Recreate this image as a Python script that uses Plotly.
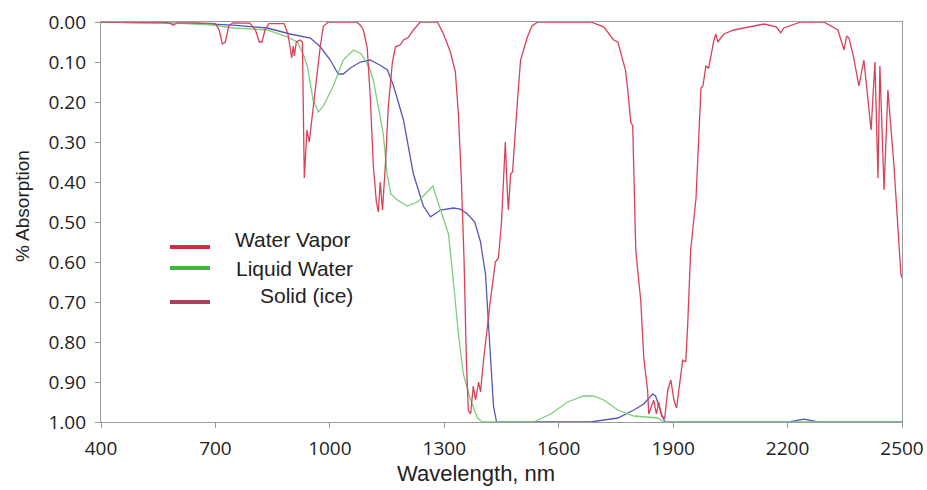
import plotly.graph_objects as go

# ---- data ----
wl_vapor = [400, 560, 580, 590, 600, 650, 700, 710, 718, 726, 735, 745, 790, 805, 815, 822, 830, 840,
            880, 890, 896, 900, 904, 907, 912, 922, 928, 933, 940, 946, 952, 958, 967, 975, 983, 996,
            1070, 1080, 1088, 1098, 1106, 1114, 1122, 1127, 1132, 1138, 1146, 1153, 1164, 1172, 1185,
            1193, 1206, 1219, 1237, 1282, 1298, 1316, 1329, 1337, 1345, 1352, 1358, 1363, 1369, 1376,
            1382, 1390, 1395, 1403, 1421, 1434, 1442, 1450, 1455, 1460, 1465, 1468, 1474, 1479, 1492,
            1500, 1518, 1530, 1545, 1684, 1718, 1744, 1755, 1768, 1775, 1781, 1789, 1794, 1797, 1802,
            1807, 1815, 1823, 1833, 1836, 1844, 1849, 1856, 1862, 1870, 1878, 1886, 1894, 1902, 1909,
            1915, 1925, 1933, 1938, 1946, 1960, 1973, 1978, 1986, 1993, 2007, 2012, 2017, 2033, 2059,
            2104, 2138, 2170, 2182, 2190, 2235, 2295, 2332, 2348, 2355, 2361, 2373, 2387, 2400, 2419,
            2429, 2437, 2442, 2453, 2463, 2479, 2492, 2497, 2500]
abs_vapor = [0.0, 0.0, 0.003, 0.008, 0.002, 0.002, 0.004, 0.02, 0.055, 0.05, 0.01, 0.002, 0.003, 0.02,
             0.05, 0.05, 0.02, 0.004, 0.004, 0.03, 0.065, 0.09, 0.06, 0.085, 0.05, 0.045, 0.05, 0.39,
             0.27, 0.30, 0.25, 0.2, 0.125, 0.06, 0.01, 0.0, 0.0, 0.008, 0.02, 0.065, 0.19, 0.36, 0.45,
             0.475, 0.40, 0.47, 0.35, 0.215, 0.1, 0.062, 0.057, 0.045, 0.038, 0.02, 0.0, 0.0, 0.03,
             0.075, 0.125, 0.23, 0.40, 0.6, 0.85, 0.97, 0.98, 0.91, 0.945, 0.90, 0.925, 0.845, 0.695,
             0.6, 0.59, 0.5, 0.40, 0.30, 0.42, 0.47, 0.38, 0.375, 0.195, 0.095, 0.037, 0.01, 0.0, 0.0,
             0.012, 0.045, 0.05, 0.095, 0.12, 0.17, 0.25, 0.26, 0.36, 0.57, 0.62, 0.695, 0.84, 0.92,
             0.98, 0.96, 0.945, 0.98, 0.95, 0.985, 0.99, 0.92, 0.895, 0.945, 0.965, 0.92, 0.845, 0.85,
             0.76, 0.57, 0.44, 0.165, 0.16, 0.11, 0.115, 0.045, 0.03, 0.05, 0.03, 0.02, 0.012, 0.005,
             0.012, 0.027, 0.015, 0.0, 0.0, 0.02, 0.07, 0.035, 0.04, 0.087, 0.16, 0.095, 0.27, 0.1,
             0.39, 0.11, 0.42, 0.17, 0.36, 0.57, 0.63, 0.64]

wl_liquid = [400, 600, 626, 694, 747, 836, 888, 915, 930, 941, 956, 970, 983, 1009, 1035, 1062, 1080,
             1096, 1106, 1115, 1124, 1140, 1150, 1160, 1177, 1203, 1230, 1256, 1270, 1280, 1290, 1311,
             1324, 1337, 1350, 1369, 1387, 1400, 1534, 1579, 1623, 1665, 1692, 1718, 1755, 1797, 1860,
             1875, 2500]
abs_liquid = [0.0, 0.002, 0.004, 0.008, 0.015, 0.02, 0.037, 0.05, 0.08, 0.11, 0.195, 0.225, 0.21, 0.16,
              0.095, 0.07, 0.078, 0.1, 0.12, 0.15, 0.195, 0.28, 0.38, 0.43, 0.445, 0.46, 0.45, 0.425,
              0.41, 0.44, 0.47, 0.53, 0.65, 0.78, 0.88, 0.945, 0.99, 1.0, 1.0, 0.98, 0.95, 0.935, 0.935,
              0.945, 0.97, 0.985, 0.99, 1.0, 1.0]

wl_ice = [400, 600, 660, 747, 836, 896, 949, 975, 1001, 1022, 1035, 1054, 1080, 1106, 1132, 1151, 1167,
          1193, 1219, 1245, 1264, 1290, 1324, 1342, 1361, 1380, 1395, 1408, 1416, 1421, 1429, 1437,
          1684, 1755, 1797, 1823, 1846, 1854, 1862, 1873, 1880, 2203, 2243, 2280, 2500]
abs_ice = [0.0, 0.002, 0.004, 0.008, 0.015, 0.03, 0.04, 0.062, 0.095, 0.13, 0.13, 0.115, 0.1, 0.095,
           0.108, 0.12, 0.16, 0.245, 0.38, 0.46, 0.487, 0.47, 0.465, 0.468, 0.48, 0.5, 0.55, 0.63, 0.76,
           0.86, 0.96, 1.0, 1.0, 0.99, 0.97, 0.955, 0.93, 0.935, 0.96, 0.99, 1.0, 1.0, 0.993, 1.0, 1.0]

x_ticks = [400, 700, 1000, 1300, 1600, 1900, 2200, 2500]
y_ticks = [0.0, 0.1, 0.2, 0.3, 0.4, 0.5, 0.6, 0.7, 0.8, 0.9, 1.0]

legend_labels = ["Water Vapor", "Liquid Water", "Solid (ice)"]
legend_colors = ["#d42a3c", "#3fb83f", "#ab3f5c"]

# ---- figure ----
fig = go.Figure()
fig.add_trace(go.Scatter(x=wl_ice, y=abs_ice, mode="lines", name="Solid (ice)",
                         line=dict(color="#5656b8", width=1.3), showlegend=False))
fig.add_trace(go.Scatter(x=wl_liquid, y=abs_liquid, mode="lines", name="Liquid Water",
                         line=dict(color="#7ccf7c", width=1.3), showlegend=False))
fig.add_trace(go.Scatter(x=wl_vapor, y=abs_vapor, mode="lines", name="Water Vapor",
                         line=dict(color="#d8415a", width=1.3), showlegend=False))

axis_common = dict(showline=True, linecolor="#9a9a9a", linewidth=1.2, mirror=True,
                   showgrid=False, zeroline=False, ticks="outside", ticklen=5,
                   tickcolor="#9a9a9a",
                   tickfont=dict(family="Open Sans", size=19, color="#222222"))

fig.update_xaxes(range=[400, 2500], tickvals=x_ticks, ticktext=[str(v) for v in x_ticks],
                 ticklabelstandoff=4, **axis_common)
fig.update_yaxes(range=[1.0, 0.0], tickvals=y_ticks, tickformat=".2f",
                 ticklabelstandoff=5, **axis_common)

# legend drawn as in the reference (line samples + right-aligned labels)
leg_line_y = [0.4375, 0.385, 0.30]
leg_text_y = [0.455, 0.385, 0.3175]
leg_text_x = [0.3146, 0.3171, 0.3171]
shapes = []
annotations = []
for lab, col, ly, ty, tx in zip(legend_labels, legend_colors, leg_line_y, leg_text_y, leg_text_x):
    shapes.append(dict(type="line", xref="paper", yref="paper", x0=0.0861, x1=0.1361,
                       y0=ly, y1=ly, line=dict(color=col, width=4)))
    annotations.append(dict(text=lab, xref="paper", yref="paper", x=tx, y=ty,
                            xanchor="right", yanchor="middle", showarrow=False,
                            font=dict(family="Liberation Sans, Arial", size=21, color="#222222")))

annotations.append(dict(text="Wavelength, nm", xref="paper", yref="paper", x=0.468, y=-0.13,
                        xanchor="center", yanchor="middle", showarrow=False,
                        font=dict(family="Liberation Sans, Arial", size=22, color="#222222")))
annotations.append(dict(text="% Absorption", xref="paper", yref="paper", x=-0.0986, y=0.54,
                        xanchor="center", yanchor="middle", showarrow=False, textangle=-90,
                        font=dict(family="Liberation Sans, Arial", size=19, color="#222222")))

fig.update_layout(width=927, height=490, autosize=False,
                  margin=dict(l=101, r=25, t=22, b=68, autoexpand=False),
                  paper_bgcolor="white", plot_bgcolor="white",
                  shapes=shapes, annotations=annotations, showlegend=False)

fig.write_html("out.html", config={"responsive": False})
